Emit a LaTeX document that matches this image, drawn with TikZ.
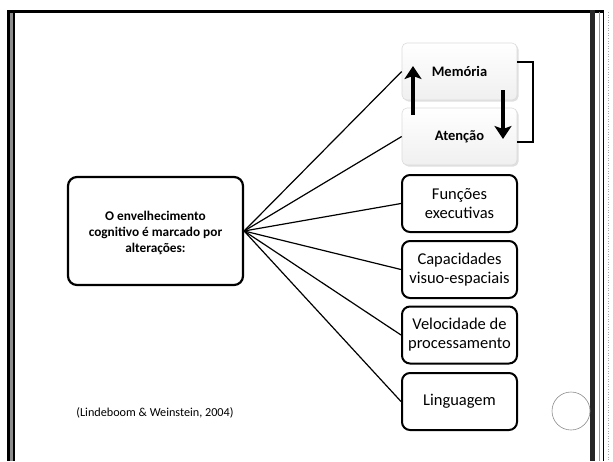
\documentclass[tikz,border=0pt]{standalone}
\usepackage{fontspec}
\setmainfont{Carlito}
\usetikzlibrary{arrows.meta,shadows}
\begin{document}
\begin{tikzpicture}[x=1pt,y=-1pt,
  mainbox/.style={draw=black, line width=2.2pt, rounded corners=9pt, fill=white,
    minimum width=175pt, minimum height=108pt, align=center, inner sep=2pt,
    font=\bfseries\fontsize{13.3}{16}\selectfont},
  topicbox/.style={draw=black, line width=2pt, rounded corners=8pt, fill=white,
    minimum width=115pt, minimum height=57pt, align=center, inner sep=1pt,
    font=\fontsize{16.5}{19}\selectfont},
  softbox/.style={draw=black!14, line width=0.6pt, rounded corners=5pt,
    top color=white, bottom color=black!6,
    minimum width=115pt, minimum height=57pt, inner sep=2pt,
    font=\bfseries\fontsize{14.5}{17}\selectfont,
    drop shadow={shadow xshift=1.5pt, shadow yshift=-1.5pt, opacity=0.25}},
  spoke/.style={draw=black, line width=1.2pt},
  flow/.style={draw=black, line width=3.4pt, -{Stealth[length=13pt,width=17pt,inset=3pt]}},
  cite/.style={font=\fontsize{12.2}{14}\selectfont}]

\useasboundingbox (0,0) rectangle (613,461);

% slide frame
\fill[black] (7.3,10) rectangle (15,461);
\fill[black!45] (10,12.7) rectangle (12.7,461);
\fill[black] (7.3,10) rectangle (604,12.7);
\fill[black!85] (590,10) rectangle (595,461);
\draw[black!40, line width=0.8pt] (599,12) -- (599,461);
\draw[black, line width=0.8pt] (603,12) -- (603,461);
\draw[black!35, dotted, line width=0.6pt] (608.5,12) -- (608.5,461);

% central statement
\node[mainbox] (main) at (155.5,231) {};
\node[font=\bfseries\fontsize{13.3}{16}\selectfont, align=center] (mainText) at (155.5,233) {O envelhecimento\\cognitivo é marcado por\\alterações:};

% memory / attention pair
\node[softbox] (mem) at (459.5,71.5) {Memória};
\node[softbox] (att) at (459.5,136.5) {Atenção};

% other domains
\node[topicbox] (exe) at (459.5,203.5) {Funções\\executivas};
\node[topicbox] (vis) at (459.5,269.5) {Capacidades\\visuo-espaciais};
\node[topicbox] (vel) at (459.5,335) {Velocidade de\\processamento};
\node[topicbox] (lin) at (459.5,401.5) {Linguagem};

% spokes
\foreach \t in {mem,att,exe,vis,vel,lin}
  \draw[spoke] (main.east) -- (\t.west);

% memory <-> attention cycle
\coordinate (upA) at (413,115);
\coordinate (upB) at (413,66);
\coordinate (dnA) at (503,90);
\coordinate (dnB) at (503,139);
\draw[flow] (upA) -- (upB);
\draw[flow] (dnA) -- (dnB);
\draw[black, line width=2pt] ([yshift=9.5pt]mem.east) -- ++(16,0) |- ([yshift=-5.5pt]att.east);

% reference and page marker
\node[cite] (ref) at (155,413) {(Lindeboom \& Weinstein, 2004)};
\node[draw=black!45, line width=0.6pt, circle, minimum size=38pt, inner sep=0pt] (pg) at (571,411) {};

\end{tikzpicture}
\end{document}
